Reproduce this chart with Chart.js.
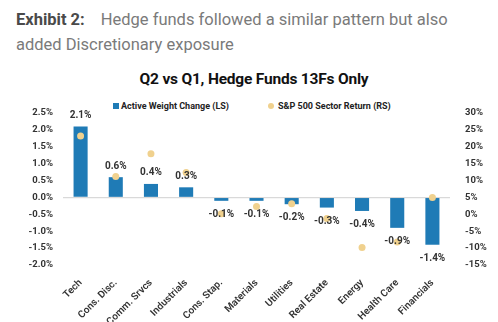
<!DOCTYPE html>
<html>
<head>
<meta charset="utf-8">
<script src="https://cdn.jsdelivr.net/npm/chart.js@4/dist/chart.umd.min.js"></script>
<style>
  body { margin: 0; background: #fff; }
  #wrap { position: relative; width: 498px; height: 322px; overflow: hidden; font-family: Roboto, sans-serif; }
  .hdr { position: absolute; left: 16px; top: 7px; width: 480px; font-size: 16.5px; line-height: 25px; color: #7a7a7a; font-weight: 400; }
  .hdr b { color: #4a4a4a; font-weight: 700; margin-right: 16px; }
  .ttl { position: absolute; left: 0; width: 508px; top: 70px; text-align: center; font-size: 15.5px; font-weight: 700; color: #111; letter-spacing: -0.2px; }
  .lgd { position: absolute; top: 101px; font-size: 9px; font-weight: 700; color: #222; white-space: nowrap; }
  .sq { display: inline-block; width: 6px; height: 6px; background: #1f7bb6; margin-right: 2px; vertical-align: 0px; }
  .dot { display: inline-block; width: 6px; height: 6px; border-radius: 50%; background: #f0d18e; margin-right: 4px; vertical-align: 0px; }
  canvas { position: absolute; left: 0; top: 0; }
</style>
</head>
<body>
<div id="wrap">
  <div class="hdr"><b>Exhibit 2:</b>Hedge funds followed a similar pattern but also added Discretionary exposure</div>
  <div class="ttl">Q2 vs Q1, Hedge Funds 13Fs Only</div>
  <div class="lgd" style="left:113px"><span class="sq"></span>Active Weight Change (LS)</div>
  <div class="lgd" style="left:268px"><span class="dot"></span>S&amp;P 500 Sector Return (RS)</div>
  <canvas id="chart" width="498" height="322"></canvas>
</div>
<script>
// sectors, left-scale weight changes (%), right-scale sector returns (%)
const sectors = ['Tech', 'Cons. Disc.', 'Comm. Srvcs', 'Industrials', 'Cons. Stap.', 'Materials',
                 'Utilities', 'Real Estate', 'Energy', 'Health Care', 'Financials'];
const activeWeightChange = [2.1, 0.6, 0.4, 0.3, -0.1, -0.1, -0.2, -0.3, -0.4, -0.9, -1.4];
const sectorReturn = [23.2, 11.2, 17.9, 12.4, 0.2, 2.3, 3.1, -1.2, -9.8, -8.2, 5.0];

const leftMin = -2.0, leftMax = 2.5, leftStep = 0.5;
const rightMin = -15, rightMax = 30, rightStep = 5;

const barBlue = '#1f7bb6';
const dotGold = '#f0d18e';
const tickFont = { family: 'Roboto', size: 9.5, weight: 'bold' };

// value labels above / below each bar, drawn over the dots
const barLabels = {
    id: 'barLabels',
    afterDatasetsDraw(chart) {
        const ctx = chart.ctx;
        const meta = chart.getDatasetMeta(0);
        ctx.save();
        ctx.font = 'bold 10px Roboto';
        ctx.fillStyle = '#333';
        ctx.textAlign = 'center';
        ctx.textBaseline = 'middle';
        meta.data.forEach((bar, i) => {
            const v = activeWeightChange[i];
            const y = v >= 0 ? bar.y - 11 : bar.y + 13.5;
            ctx.fillText(v.toFixed(1) + '%', bar.x, y);
        });
        ctx.restore();
    }
};

new Chart(document.getElementById('chart'), {
    data: {
        labels: sectors,
        datasets: [
            {
                type: 'bar',
                label: 'Active Weight Change (LS)',
                data: activeWeightChange,
                backgroundColor: barBlue,
                yAxisID: 'y',
                barPercentage: 0.4,
                categoryPercentage: 1.0,
                order: 2
            },
            {
                type: 'line',
                label: 'S&P 500 Sector Return (RS)',
                data: sectorReturn,
                yAxisID: 'y1',
                showLine: false,
                pointRadius: 3.5,
                pointBackgroundColor: dotGold,
                pointBorderWidth: 0,
                order: 1
            }
        ]
    },
    options: {
        responsive: false,
        animation: false,
        layout: { padding: { top: 113, left: 0, right: 0, bottom: 0 } },
        plugins: {
            legend: { display: false },
            title: { display: false },
            tooltip: { enabled: false }
        },
        scales: {
            x: {
                grid: { display: false },
                border: { display: false },
                ticks: {
                    minRotation: 45, maxRotation: 45, padding: 4,
                    color: '#333', font: { family: 'Roboto', size: 10, weight: '600' }
                },
                afterFit: (s) => { s.height = 57; }
            },
            y: {
                position: 'left',
                min: leftMin, max: leftMax,
                border: { display: false },
                grid: {
                    drawTicks: false,
                    color: (c) => c.tick && c.tick.value === 0 ? '#d9d9d9' : 'rgba(0,0,0,0)',
                    lineWidth: 1.2
                },
                ticks: {
                    stepSize: leftStep, padding: 10, color: '#333', font: tickFont,
                    callback: (v) => v.toFixed(1) + '%'
                },
                afterFit: (s) => { s.width = 63; }
            },
            y1: {
                position: 'right',
                min: rightMin, max: rightMax,
                border: { display: false },
                grid: { display: false, drawOnChartArea: false },
                ticks: {
                    stepSize: rightStep, padding: 7, color: '#333', font: tickFont,
                    callback: (v) => v + '%'
                },
                afterFit: (s) => { s.width = 48; }
            }
        }
    },
    plugins: [barLabels]
});
</script>
</body>
</html>
